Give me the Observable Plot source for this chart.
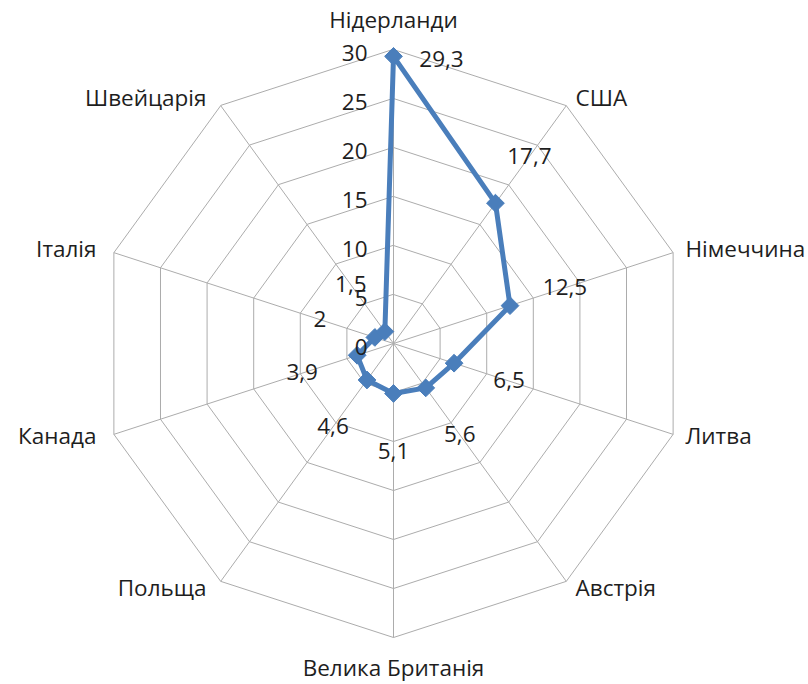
<!DOCTYPE html>
<html><head><meta charset="utf-8">
<script src="https://cdn.jsdelivr.net/npm/d3@7"></script>
<script src="https://cdn.jsdelivr.net/npm/@observablehq/plot@0.6"></script>
<style>body{margin:0;background:#fff;} #chart svg{display:block;}</style>
</head><body><div id="chart"></div>
<script>
const categories = ["Нідерланди","США","Німеччина","Литва","Австрія","Велика Британія","Польща","Канада","Італія","Швейцарія"];
const values = [29.3, 17.7, 12.5, 6.5, 5.6, 5.1, 4.6, 3.9, 2, 1.5];
const valueLabels = ["29,3","17,7","12,5","6,5","5,6","5,1","4,6","3,9","2","1,5"];
const ticks = [0, 5, 10, 15, 20, 25, 30];
const tickLabels = ["0","5","10","15","20","25","30"];

const W = 808, H = 684, cx = 393, cy = 343, R = 294, maxV = 30;
const k = R / maxV;
const n = categories.length;
const ang = i => 2 * Math.PI * i / n;
const px = (r, i) => r * Math.sin(ang(i));
const py = (r, i) => r * Math.cos(ang(i));

const font = "Open Sans";
const fs = 22.5;
const textColor = "#1e1e1e";
const blue = "#4a7ebb";
const gridColor = "#acacac";

const rings = [];
ticks.filter(t => t > 0).forEach(t => {
  for (let i = 0; i < n; i++) rings.push({ring: t, x: px(t, i), y: py(t, i)});
});
const spokes = categories.map((c, i) => ({x1: 0, y1: 0, x2: px(maxV, i), y2: py(maxV, i)}));
const pts = values.map((v, i) => ({i, cat: categories[i], v, lab: valueLabels[i], x: px(v, i), y: py(v, i)}));
const cats = categories.map((c, i) => ({i, c, s: Math.sin(ang(i)), x: px(maxV + 0.9, i), y: py(maxV + 0.9, i), x0: px(maxV, i), y0: py(maxV, i)}));
const lblOff = 5.9;
const valLbls = pts.filter(d => d.i > 0).map(d => ({...d, lx: px(d.v + lblOff, d.i), ly: py(d.v + lblOff, d.i)}));
const tickData = ticks.map((t, j) => ({t, lab: tickLabels[j]}));

const eps = 1e-6;
const chart = Plot.plot({
  width: W, height: H,
  marginTop: 0, marginRight: 0, marginBottom: 0, marginLeft: 0,
  x: {domain: [-cx / k, (W - cx) / k], range: [0, W], axis: null},
  y: {domain: [-(H - cy) / k, cy / k], range: [H, 0], axis: null},
  style: {fontFamily: font, background: "#fff"},
  marks: [
    Plot.line(rings, {x: "x", y: "y", z: "ring", curve: "linear-closed", stroke: gridColor, strokeWidth: 1}),
    Plot.link(spokes, {x1: "x1", y1: "y1", x2: "x2", y2: "y2", stroke: gridColor, strokeWidth: 1}),
    Plot.line(pts, {x: "x", y: "y", curve: "linear-closed", stroke: blue, strokeWidth: 5, strokeLinejoin: "round"}),
    Plot.dot(pts, {x: "x", y: "y", symbol: "diamond2", r: 8, fill: blue, stroke: blue, strokeWidth: 1}),
    // tick labels along the first axis
    Plot.text(tickData, {x: () => 0, y: "t", text: "lab", textAnchor: "end", dx: -26, dy: 4, fontSize: fs, fontFamily: font, fill: textColor}),
    // value labels
    Plot.text(valLbls, {x: "lx", y: "ly", text: "lab", fontSize: fs, fontFamily: font, fill: textColor}),
    Plot.text(pts.filter(d => d.i === 0), {x: "x", y: "y", text: "lab", dx: 48, dy: 3, fontSize: fs, fontFamily: font, fill: textColor}),
    // category labels
    Plot.text(cats.filter(d => d.s > eps), {x: "x", y: "y", text: "c", textAnchor: "start", dx: 4, fontSize: fs, fontFamily: font, fill: textColor}),
    Plot.text(cats.filter(d => d.s < -eps), {x: "x", y: "y", text: "c", textAnchor: "end", dx: -9, fontSize: fs, fontFamily: font, fill: textColor}),
    Plot.text(cats.filter(d => d.i === 0), {x: "x0", y: "y0", text: "c", dy: -29, fontSize: fs, fontFamily: font, fill: textColor}),
    Plot.text(cats.filter(d => d.i === n / 2), {x: "x0", y: "y0", text: "c", dy: 31, fontSize: fs, fontFamily: font, fill: textColor})
  ]
});
document.getElementById("chart").appendChild(chart);
</script>
</body></html>
